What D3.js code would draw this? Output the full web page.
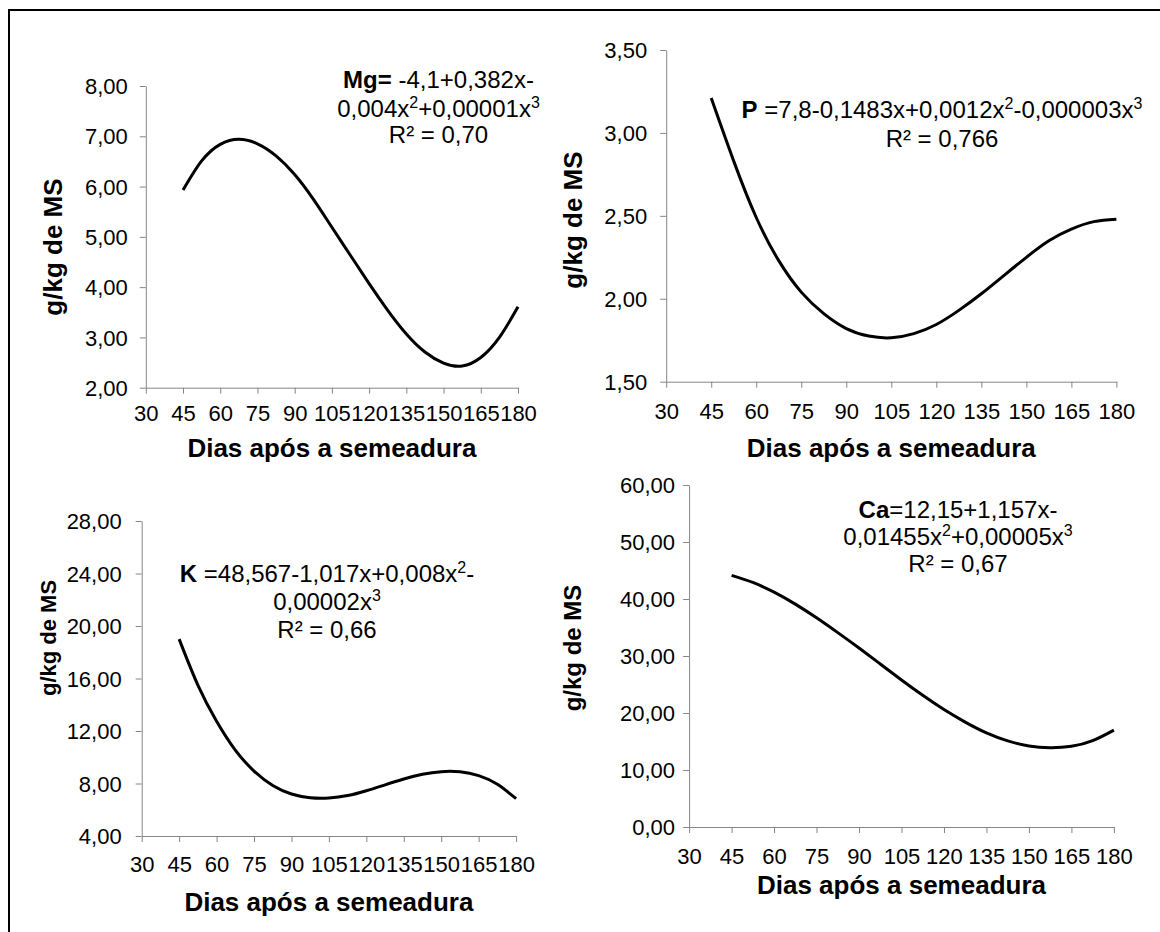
<!DOCTYPE html>
<html><head><meta charset="utf-8">
<script src="https://cdn.jsdelivr.net/npm/d3@7"></script>
<style>
body{margin:0;background:#fff}
svg{display:block}
text{font-family:"Liberation Sans",Arial,Helvetica,sans-serif;fill:#000}
</style>
</head><body>
<svg id="chart" width="1160" height="932"></svg>
<script>
// ---------- data ----------
const days = [45,52.5,60,67.5,75,82.5,90,97.5,105,112.5,120,127.5,135,142.5,150,157.5,165,172.5,180];
const mgValues = [5.93,6.51,6.84,6.94,6.85,6.61,6.24,5.75,5.19,4.63,4.07,3.54,3.07,2.71,2.49,2.43,2.60,3.00,3.61];
const pValues  = [3.21,2.83,2.49,2.23,2.04,1.91,1.82,1.775,1.765,1.79,1.845,1.93,2.03,2.14,2.25,2.35,2.42,2.465,2.48];
const kValues  = [19.0,15.5,12.75,10.55,8.95,7.85,7.2,6.92,6.9,7.08,7.45,7.9,8.34,8.7,8.9,8.89,8.6,7.94,6.84];
const caValues = [44.15,42.9,41.2,39.1,36.7,34.1,31.4,28.6,25.8,23.1,20.6,18.4,16.5,15.1,14.2,13.9,14.15,15.15,17.0];

const xTicks  = [30,45,60,75,90,105,120,135,150,165,180];
const mgTicks = [2,3,4,5,6,7,8];
const pTicks  = [1.5,2,2.5,3,3.5];
const kTicks  = [4,8,12,16,20,24,28];
const caTicks = [0,10,20,30,40,50,60];

const xTitle = "Dias após a semeadura";
const yTitle = "g/kg de MS";

const eqMg = [[{t:"Mg=",b:1},{t:" -4,1+0,382x-"}],
              [{t:"0,004x"},{t:"2",s:1},{t:"+0,00001x"},{t:"3",s:1}],
              [{t:"R² = 0,70"}]];
const eqP  = [[{t:"P",b:1},{t:" =7,8-0,1483x+0,0012x"},{t:"2",s:1},{t:"-0,000003x"},{t:"3",s:1}],
              [{t:"R² = 0,766"}]];
const eqK  = [[{t:"K",b:1},{t:" =48,567-1,017x+0,008x"},{t:"2",s:1},{t:"-"}],
              [{t:"0,00002x"},{t:"3",s:1}],
              [{t:"R² = 0,66"}]];
const eqCa = [[{t:"Ca",b:1},{t:"=12,15+1,157x-"}],
              [{t:"0,01455x"},{t:"2",s:1},{t:"+0,00005x"},{t:"3",s:1}],
              [{t:"R² = 0,67"}]];

// ---------- layout ----------
const panels = [
  {values:mgValues, yTicks:mgTicks, box:{l:145.8,r:518,t:86,b:387.7}, yGap:18, xLab:421, xTit:457,
   yT:{x:62,y:247,size:26}, eq:eqMg, eqX:438.5, eqY:[88.3,116.7,143.3]},
  {values:pValues, yTicks:pTicks, box:{l:666.2,r:1116.4,t:50,b:381.7}, yGap:19, xLab:419, xTit:457,
   yT:{x:582,y:220,size:26}, eq:eqP, eqX:942, eqY:[118.3,146.7]},
  {values:kValues, yTicks:kTicks, box:{l:141.7,r:516.1,t:521,b:836}, yGap:20, xLab:872, xTit:911,
   yT:{x:56,y:638,size:22}, eq:eqK, eqX:327, eqY:[581.7,610,638.3]},
  {values:caValues, yTicks:caTicks, box:{l:689.1,r:1113.9,t:485,b:827}, yGap:14, xLab:864, xTit:894,
   yT:{x:581,y:648,size:24}, eq:eqCa, eqX:958, eqY:[518.3,545,571.7]}
];

const svg = d3.select("#chart");
svg.append("rect").attr("width",1160).attr("height",932).attr("fill","#fff");
svg.append("rect").attr("x",9).attr("y",10).attr("width",1165).attr("height",935)
   .attr("fill","none").attr("stroke","#000").attr("stroke-width",2);

const fmt = v => d3.format(".2f")(v).replace(".", ",");
const axisColor = "#868686";

panels.forEach(p => {
  const x = d3.scaleLinear().domain([30,180]).range([p.box.l, p.box.r]);
  const y = d3.scaleLinear().domain(d3.extent(p.yTicks)).range([p.box.b, p.box.t]);
  const g = svg.append("g");

  // y axis
  const ya = g.append("g").attr("transform",`translate(${p.box.l},0)`)
    .call(d3.axisLeft(y).tickValues(p.yTicks).tickFormat(fmt).tickSize(6).tickSizeOuter(0));
  ya.select(".domain").attr("stroke",axisColor);
  ya.selectAll(".tick line").attr("stroke",axisColor);
  ya.selectAll(".tick text").attr("x",-p.yGap).attr("dy","0.35em")
    .style("font-size","22px").style("font-family",'"Liberation Sans",Arial,sans-serif').attr("fill","#000");

  // x axis
  const xa = g.append("g").attr("transform",`translate(0,${p.box.b})`)
    .call(d3.axisBottom(x).tickValues(xTicks).tickFormat(d3.format("d")).tickSize(6).tickSizeOuter(0));
  xa.select(".domain").attr("stroke",axisColor);
  xa.selectAll(".tick line").attr("stroke",axisColor);
  xa.selectAll(".tick text").attr("y", p.xLab - p.box.b).attr("dy",null)
    .style("font-size","22px").style("font-family",'"Liberation Sans",Arial,sans-serif').attr("fill","#000");

  // curve
  const line = d3.line().x((d,i)=>x(days[i])).y(d=>y(d)).curve(d3.curveNatural);
  g.append("path").datum(p.values).attr("d",line)
    .attr("fill","none").attr("stroke","#000").attr("stroke-width",3).attr("stroke-linecap","butt");

  // titles
  g.append("text").attr("x",(p.box.l+p.box.r)/2).attr("y",p.xTit).attr("text-anchor","middle")
    .style("font-size","26px").style("font-weight","bold").text(xTitle);
  g.append("text").attr("transform",`translate(${p.yT.x},${p.yT.y}) rotate(-90)`).attr("text-anchor","middle")
    .style("font-size",p.yT.size+"px").style("font-weight","bold").text(yTitle);

  // equation
  p.eq.forEach((segs,li) => {
    const t = g.append("text").attr("x",p.eqX).attr("y",p.eqY[li]).attr("text-anchor","middle")
      .style("font-size","24px");
    let up = false;
    segs.forEach(s => {
      const ts = t.append("tspan").text(s.t);
      if (s.b) ts.style("font-weight","bold");
      if (s.s) { ts.style("font-size","16px"); if(!up){ts.attr("dy",-9); up=true;} }
      else if (up) { ts.attr("dy",9); up=false; }
    });
  });
});
</script>
</body></html>
